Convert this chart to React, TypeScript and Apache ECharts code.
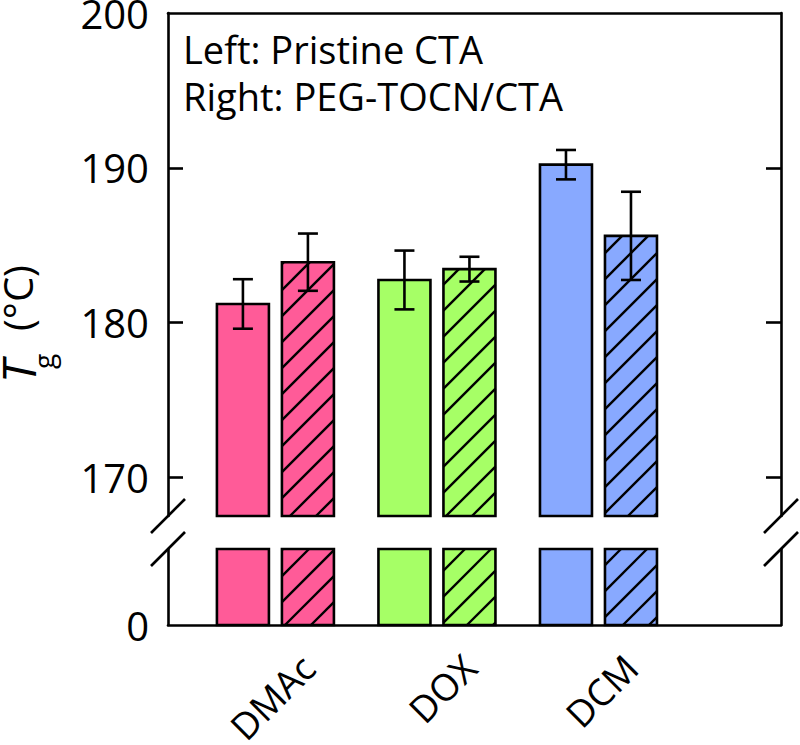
import React, { useEffect, useRef } from "react";
import * as echarts from "echarts";

const categories = ["DMAc", "DOX", "DCM"];
const pristineValues = [181.2, 182.75, 190.2];
const pristineErrors = [1.6, 1.9, 0.95];
const pegValues = [183.9, 183.45, 185.6];
const pegErrors = [1.85, 0.8, 2.85];
const upperTicks = [170, 180, 190, 200];
const upperInnerTicks = [170, 180, 190];
const lowerTicks = [0];
const noteLines = ["Left: Pristine CTA", "Right: PEG-TOCN/CTA"];
const yTitleParts = ["T", "g", "(°C)"];
const barColors = ["#FF5B98", "#A6FF66", "#88A9FF"];

const FONT = "Open Sans";
const BAR_W = 52;
const PAIR_OFFSET = 32.5;
const HATCH_STEP = 26;
const LABEL_SHIFT = 0.2;
const LW = 2.6;

function makeRender(offsetPx: number, hatched: boolean, withErr: boolean) {
  return (params: any, api: any) => {
    const cs = params.coordSys;
    const xi = api.value(0);
    const v = api.value(1);
    const e = api.value(2);
    const top = api.coord([xi, v]);
    const base = api.coord([xi, 0]);
    const cx = top[0] + offsetPx;
    const y0 = Math.max(cs.y, top[1]);
    const y1 = Math.min(cs.y + cs.height, base[1]);
    const x0 = cx - BAR_W / 2;
    const x1 = cx + BAR_W / 2;
    const color = barColors[params.dataIndex];
    const children: any[] = [];
    children.push({
      type: "rect",
      shape: { x: x0, y: y0, width: BAR_W, height: y1 - y0 },
      style: { fill: color, stroke: null },
    });
    if (hatched) {
      const cStart = Math.ceil((x0 + y0) / HATCH_STEP) * HATCH_STEP;
      for (let c = cStart; c <= x1 + y1; c += HATCH_STEP) {
        const xa = Math.max(x0, c - y1);
        const xb = Math.min(x1, c - y0);
        if (xb - xa > 0.5) {
          children.push({
            type: "line",
            shape: { x1: xa, y1: c - xa, x2: xb, y2: c - xb },
            style: { stroke: "#000", lineWidth: 2.4 },
          });
        }
      }
    }
    children.push({
      type: "rect",
      shape: { x: x0, y: y0, width: BAR_W, height: y1 - y0 },
      style: { fill: null, stroke: "#000", lineWidth: LW },
    });
    if (withErr) {
      const hi = api.coord([xi, v + e])[1];
      const lo = api.coord([xi, v - e])[1];
      const st = { stroke: "#000", lineWidth: LW };
      children.push({ type: "line", shape: { x1: cx, y1: hi, x2: cx, y2: lo }, style: st });
      children.push({ type: "line", shape: { x1: cx - 10, y1: hi, x2: cx + 10, y2: hi }, style: st });
      children.push({ type: "line", shape: { x1: cx - 10, y1: lo, x2: cx + 10, y2: lo }, style: st });
    }
    return { type: "group", children };
  };
}

const lineStyle = { color: "#000", width: LW };

export default function App() {
  const ref = useRef<HTMLDivElement>(null);
  useEffect(() => {
    if (!ref.current) return;
    const chart = echarts.init(ref.current, null, { renderer: "svg" });
    const pData = categories.map((_, i) => [i + 1, pristineValues[i], pristineErrors[i]]);
    const gData = categories.map((_, i) => [i + 1, pegValues[i], pegErrors[i]]);

    const gridLeft = 168;
    const gridRight = 19;
    const topY = 13;
    const topH = 503;
    const lowY = 549;
    const lowH = 76;
    const leftX = gridLeft;
    const rightX = 800 - gridRight;
    const breakA = topY + topH;
    const breakB = lowY;
    const s = 17;

    const slash = (x: number, y: number) => ({
      type: "line",
      shape: { x1: x - s, y1: y + s, x2: x + s, y2: y - s },
      style: { stroke: "#000", lineWidth: LW },
      z: 100,
    });

    const xBase = {
      type: "value",
      min: 0.335,
      max: 4.13,
      splitLine: { show: false },
      axisTick: { show: false },
    };

    const yLabel = {
      show: true,
      fontSize: 40,
      margin: 19,
      color: "#000",
      fontFamily: FONT,
      padding: [8, 0, 0, 0],
    };

    const titleText = (text: string, lx: number, ly: number, size: number, italic: boolean) => ({
      type: "text",
      x: lx,
      y: ly,
      style: {
        text,
        fontSize: size,
        fontStyle: italic ? "italic" : "normal",
        fontFamily: FONT,
        fill: "#000",
        align: "left",
        verticalAlign: "middle",
      },
    });

    const option: any = {
      animation: false,
      textStyle: { fontFamily: FONT },
      grid: [
        { left: gridLeft, right: gridRight, top: topY, height: topH, outerBoundsMode: "none" },
        { left: gridLeft, right: gridRight, top: lowY, height: lowH, outerBoundsMode: "none" },
      ],
      xAxis: [
        {
          ...xBase,
          gridIndex: 0,
          position: "top",
          axisLine: { show: true, onZero: false, lineStyle },
          axisLabel: { show: false },
        },
        {
          ...xBase,
          gridIndex: 1,
          position: "bottom",
          axisLine: { show: true, onZero: false, lineStyle },
          axisLabel: {
            show: true,
            rotate: 45,
            customValues: categories.map((_, i) => i + 1 + LABEL_SHIFT),
            formatter: (val: number) => categories[Math.round(val) - 1] ?? "",
            fontSize: 37,
            margin: 36,
            color: "#000",
            fontFamily: FONT,
          },
        },
      ],
      yAxis: [
        {
          type: "value",
          gridIndex: 0,
          position: "left",
          min: 167.5,
          max: 200,
          splitLine: { show: false },
          axisLine: { show: true, onZero: false, lineStyle },
          axisTick: { show: true, inside: true, length: 15, customValues: upperInnerTicks, lineStyle },
          axisLabel: { ...yLabel, customValues: upperTicks },
        },
        {
          type: "value",
          gridIndex: 0,
          position: "right",
          min: 167.5,
          max: 200,
          splitLine: { show: false },
          axisLine: { show: true, onZero: false, lineStyle },
          axisTick: { show: true, inside: true, length: 15, customValues: upperInnerTicks, lineStyle },
          axisLabel: { show: false },
        },
        {
          type: "value",
          gridIndex: 1,
          position: "left",
          min: 0,
          max: 10,
          splitLine: { show: false },
          axisLine: { show: true, onZero: false, lineStyle },
          axisTick: { show: false },
          axisLabel: { ...yLabel, customValues: lowerTicks },
        },
        {
          type: "value",
          gridIndex: 1,
          position: "right",
          min: 0,
          max: 10,
          splitLine: { show: false },
          axisLine: { show: true, onZero: false, lineStyle },
          axisTick: { show: false },
          axisLabel: { show: false },
        },
      ],
      series: [
        {
          type: "custom",
          name: "Pristine CTA",
          xAxisIndex: 0,
          yAxisIndex: 0,
          renderItem: makeRender(-PAIR_OFFSET, false, true),
          encode: { x: 0, y: 1 },
          data: pData,
        },
        {
          type: "custom",
          name: "PEG-TOCN/CTA",
          xAxisIndex: 0,
          yAxisIndex: 0,
          renderItem: makeRender(PAIR_OFFSET, true, true),
          encode: { x: 0, y: 1 },
          data: gData,
        },
        {
          type: "custom",
          name: "Pristine CTA (lower)",
          xAxisIndex: 1,
          yAxisIndex: 2,
          renderItem: makeRender(-PAIR_OFFSET, false, false),
          encode: { x: 0, y: 1 },
          data: pData,
        },
        {
          type: "custom",
          name: "PEG-TOCN/CTA (lower)",
          xAxisIndex: 1,
          yAxisIndex: 2,
          renderItem: makeRender(PAIR_OFFSET, true, false),
          encode: { x: 0, y: 1 },
          data: gData,
        },
      ],
      graphic: [
        {
          type: "rect",
          shape: { x: leftX - 5, y: breakA + 2, width: 10, height: breakB - breakA - 4 },
          style: { fill: "#fff" },
          z: 90,
        },
        {
          type: "rect",
          shape: { x: rightX - 5, y: breakA + 2, width: 10, height: breakB - breakA - 4 },
          style: { fill: "#fff" },
          z: 90,
        },
        slash(leftX, breakA),
        slash(leftX, breakB),
        slash(rightX, breakA),
        slash(rightX, breakB),
        ...noteLines.map((t, i) => ({
          type: "text",
          x: 183,
          y: 49 + i * 47,
          z: 100,
          style: {
            text: t,
            fontSize: 38,
            fontFamily: FONT,
            fill: "#000",
            align: "left",
            verticalAlign: "middle",
          },
        })),
        {
          type: "group",
          x: 0,
          y: 385,
          rotation: Math.PI / 2,
          z: 100,
          children: [
            titleText(yTitleParts[0], 2, 18, 46, true),
            titleText(yTitleParts[1], 16, 43, 28, false),
            titleText(yTitleParts[2], 54, 17.5, 40, false),
          ],
        },
      ],
    };
    chart.setOption(option);
    return () => chart.dispose();
  }, []);
  return (
    <div
      ref={ref}
      style={{ position: "fixed", left: 0, top: 0, width: 800, height: 745, background: "#fff" }}
    />
  );
}
